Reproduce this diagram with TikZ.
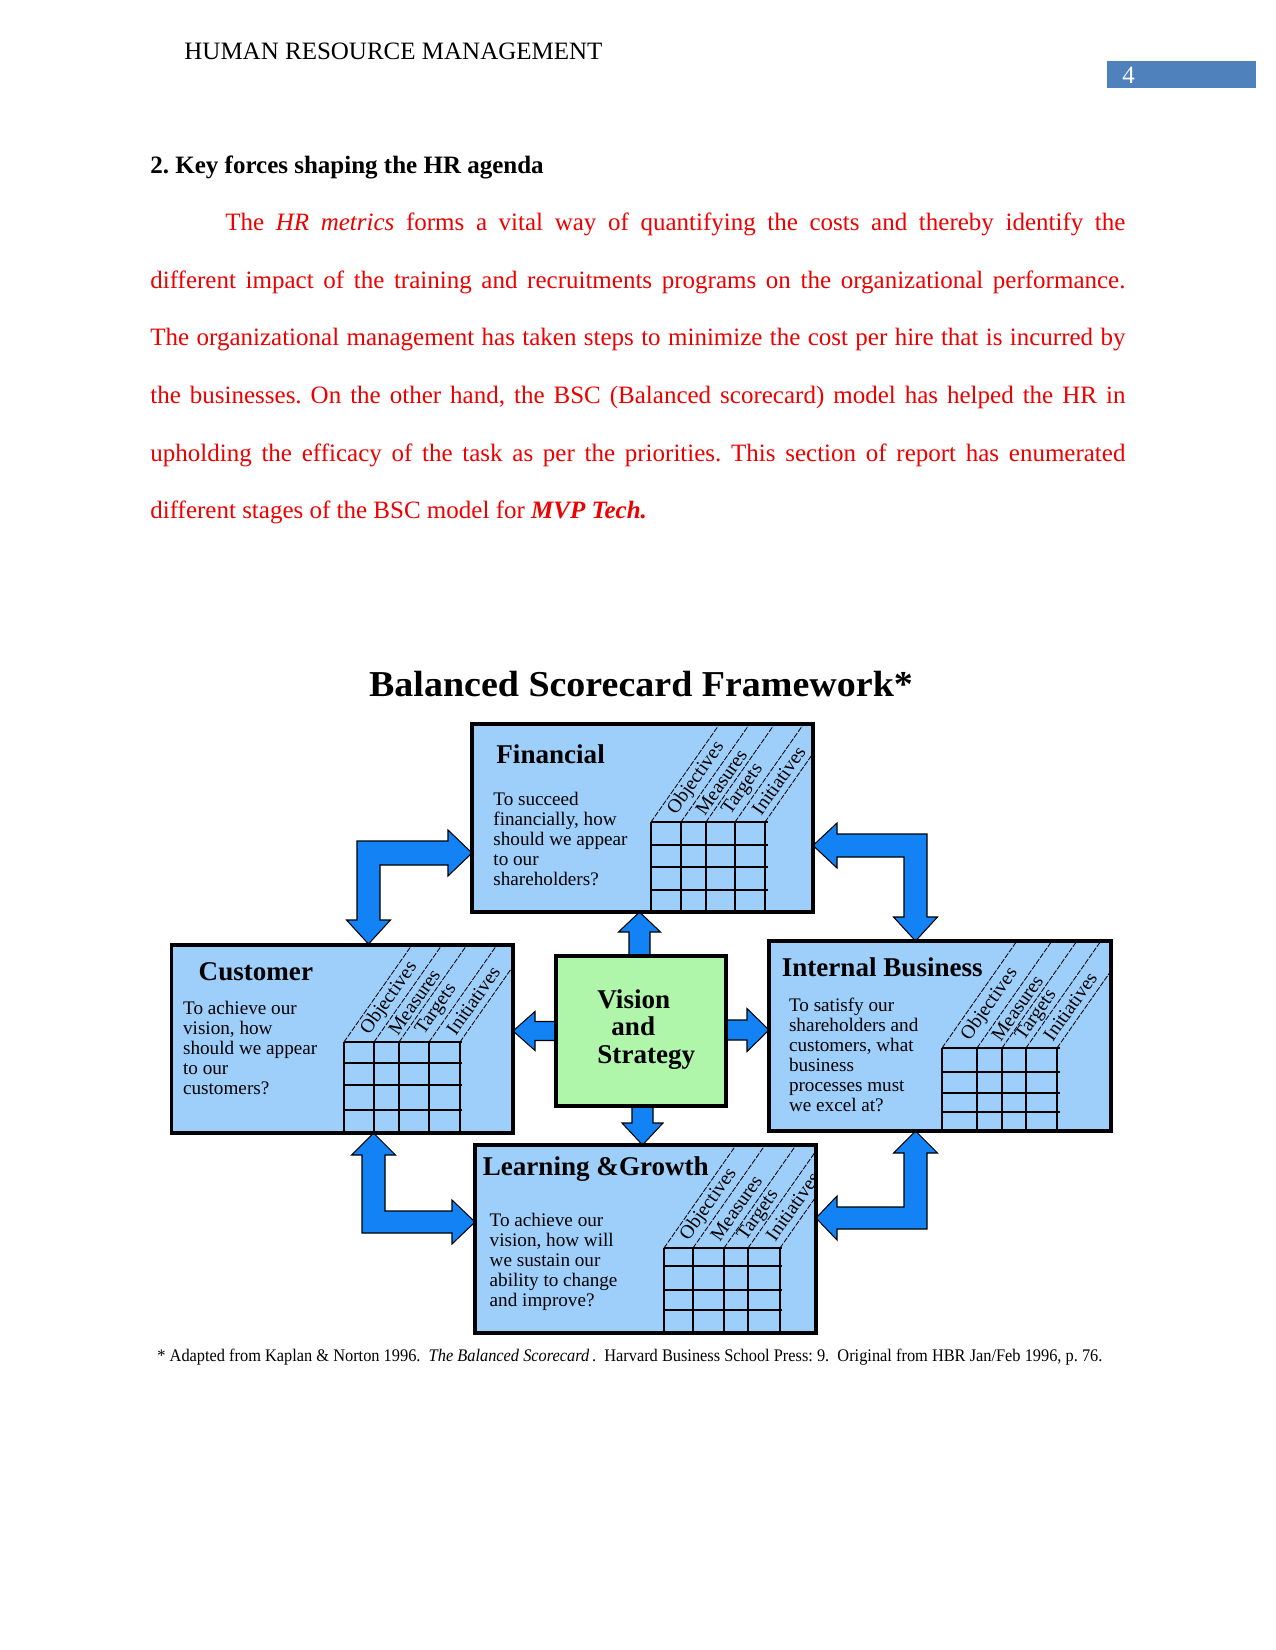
\documentclass[tikz,border=0pt]{standalone}
\usepackage{fontspec}
\setmainfont{Liberation Serif}
\usepackage{graphicx}
\frenchspacing
\definecolor{boxblue}{RGB}{158,206,250}
\definecolor{visgreen}{RGB}{176,246,170}
\definecolor{arrblue}{RGB}{18,130,245}
\definecolor{pagenum}{RGB}{79,129,189}
\definecolor{txtred}{RGB}{238,0,0}
\tikzset{
  boxborder/.style={draw=black, line width=1.8pt},
  boxfill/.style={fill=boxblue, draw=none, inner sep=0pt, outer sep=0pt},
  gridline/.style={draw=black, line width=0.9pt},
  slantline/.style={draw=black, line width=0.4pt, dash pattern=on 2.6pt off 0.7pt},
  blockarrow/.style={fill=arrblue, draw=black, line width=0.5pt, line join=miter},
  lbl/.style={anchor=west, rotate=55, inner sep=0pt, font=\fontsize{9.4}{10}\selectfont},
  boxtitle/.style={anchor=base west, inner sep=0pt, font=\fontsize{13}{14}\selectfont\bfseries},
  boxbody/.style={anchor=north west, inner sep=0pt, align=left, font=\fontsize{9.2}{9.6}\selectfont},
  plain12/.style={anchor=base west, inner sep=0pt, font=\fontsize{12}{14}\selectfont},
  paraline/.style={anchor=base west, inner sep=0pt, text=txtred, font=\fontsize{12}{14}\selectfont},
}
% #1 name, #2 x0, #3 y0, #4 x1, #5 y1, #6 grid top, #7 rows, #8 cols ; \gl \gr = horizontal extent
\newcommand{\scgrid}[8]{%
  \node[boxfill, minimum width={(#4-#2)*0.48pt}, minimum height={(#5-#3)*0.48pt}] (#1) at ({(#2+#4)/2},{(#3+#5)/2}) {};
  \foreach \c in {#8} \draw[gridline] (\c,#6) -- (\c,#5);
  \foreach \r in {#7} \draw[gridline] (\gl,\r) -- (\gr,\r);
  \begin{scope}
    \clip (#2,#3) rectangle (#4,#5);
    \foreach \c in {#8} \draw[slantline] (\c,#6) -- ++(140,-200);
  \end{scope}
  \draw[boxborder] (#1.north west) rectangle (#1.south east);
}
% column labels, clipped to the box: #1 name, #2 x0, #3 y0, #4 x1, #5 y1, #6 grid top, #7..#9 and \mdd strip mids
\newcommand{\sclabels}[9]{%
  \begin{scope}
    \clip (#2,#3) rectangle ({#4-2},#5);
    \node[lbl] (#1-obj) at ({#7+6},{#6-9}) {Objectives};
    \node[lbl] (#1-mea) at ({#8+6},{#6-9}) {Measures};
    \node[lbl] (#1-tar) at ({#9+6},{#6-9}) {Targets};
    \node[lbl] (#1-ini) at ({\mdd+6},{#6-9}) {Initiatives};
  \end{scope}
}
\begin{document}
\begin{tikzpicture}[x=0.48pt,y=-0.48pt]
\useasboundingbox (0,0) rectangle (1275,1650);
\fill[white] (0,0) rectangle (1275,1650);

% header
\node[plain12] (hdr) at (184,60) {HUMAN RESOURCE MANAGEMENT};
\fill[pagenum] (1107,61) rectangle (1256,88);
\node[plain12, text=white] (pg) at (1122,83.5) {4};

% section heading and paragraph
\node[plain12, font=\fontsize{12}{14}\selectfont\bfseries] (sec) at (150,174) {2. Key forces shaping the HR agenda};
\node[paraline] (p1) at (225,230.7) {\makebox[432pt][s]{The \textit{HR metrics} forms a vital way of quantifying the costs and thereby identify the}};
\node[paraline] (p2) at (150,288.5) {\makebox[468pt][s]{different impact of the training and recruitments programs on the organizational performance.}};
\node[paraline] (p3) at (150,345.3) {\makebox[468pt][s]{The organizational management has taken steps to minimize the cost per hire that is incurred by}};
\node[paraline] (p4) at (150,403.2) {\makebox[468pt][s]{the businesses. On the other hand, the BSC (Balanced scorecard) model has helped the HR in}};
\node[paraline] (p5) at (150,461.1) {\makebox[468pt][s]{upholding the efficacy of the task as per the priorities. This section of report has enumerated}};
\node[paraline] (p6) at (150,518.9) {different stages of the BSC model for \textbf{\textit{MVP Tech.}}};

% title
\node[anchor=base, inner sep=0pt] (ttl) at (641,696) {\resizebox{261pt}{\height}{\fontsize{17.5}{20}\selectfont\bfseries Balanced Scorecard Framework*}};

% ---- block arrows ----
% vision -> financial (up)
\draw[blockarrow] (629,956) -- (629,932) -- (618.5,932) -- (639.5,912) -- (660.5,932) -- (650,932) -- (650,956) -- cycle;
% vision -> learning (down)
\draw[blockarrow] (632,1106) -- (632,1123) -- (622,1123) -- (642.5,1145) -- (663,1123) -- (653,1123) -- (653,1106) -- cycle;
% vision -> customer (left)
\draw[blockarrow] (556,1021.5) -- (535,1021.5) -- (535,1011.5) -- (513,1031) -- (535,1050.5) -- (535,1040.5) -- (556,1040.5) -- cycle;
% vision -> internal (right)
\draw[blockarrow] (726,1020) -- (747,1020) -- (747,1008.5) -- (769,1030) -- (747,1051.5) -- (747,1040) -- (726,1040) -- cycle;
% customer <-> financial (top left)
\draw[blockarrow] (357,841) -- (448,841) -- (448,830) -- (472,853) -- (448,876) -- (448,865) -- (380,865) -- (380,920) -- (390.5,920) -- (368.5,944) -- (346.5,920) -- (357,920) -- cycle;
% financial <-> internal (top right)
\draw[blockarrow] (927,834) -- (837,834) -- (837,823) -- (813,845.5) -- (837,868) -- (837,857) -- (904,857) -- (904,917) -- (893.5,917) -- (915.5,941) -- (937.5,917) -- (927,917) -- cycle;
% customer <-> learning (bottom left)
\draw[blockarrow] (362,1233) -- (362,1155) -- (351.5,1155) -- (373.5,1133) -- (395.5,1155) -- (385,1155) -- (385,1211) -- (452,1211) -- (452,1200) -- (475,1222) -- (452,1244) -- (452,1233) -- cycle;
% internal <-> learning (bottom right)
\draw[blockarrow] (927,1229) -- (927,1153) -- (937.5,1153) -- (915.5,1131) -- (893.5,1153) -- (904,1153) -- (904,1207) -- (837,1207) -- (837,1196) -- (816,1218) -- (837,1240) -- (837,1229) -- cycle;

% ---- scorecard boxes ----
\def\gl{651}\def\gr{768}
\scgrid{fin}{472}{724}{813}{912}{822}{822,845,867,890}{651,681,706,735,765}
\def\gl{344}\def\gr{462}
\scgrid{cus}{171.5}{945}{513}{1133}{1042}{1042,1063,1085,1110}{344,374,399,429,460}
\def\gl{942}\def\gr{1060}
\scgrid{int}{769}{941}{1111}{1131}{1048}{1048,1072,1093,1112}{942,977,1002,1026,1057}
\def\gl{664}\def\gr{782}
\scgrid{lrn}{475}{1145}{816}{1333}{1248}{1248,1266,1290,1310}{664,693,724,748,780}

% column labels
\def\mdd{750}\sclabels{fin}{472}{724}{813}{912}{822}{666}{693.5}{720.5}
\def\mdd{444.5}\sclabels{cus}{171.5}{945}{513}{1133}{1042}{359}{386.5}{414}
\def\mdd{1041.5}\sclabels{int}{769}{941}{1111}{1131}{1048}{959.5}{989.5}{1014}
\def\mdd{764}\sclabels{lrn}{475}{1145}{816}{1333}{1248}{678.5}{708.5}{736}

% titles and questions
\node[boxtitle] (fin-t) at (496,763) {Financial};
\node[boxbody] (fin-q) at (493,791.8) {To succeed\\financially, how\\should we appear\\to our\\shareholders?};
\node[boxtitle] (cus-t) at (198.3,980) {Customer};
\node[boxbody] (cus-q) at (182.7,1000.8) {To achieve our\\vision, how\\should we appear\\to our\\customers?};
\node[boxtitle] (int-t) at (781.4,976.7) {Internal Business};
\node[boxbody] (int-q) at (788.6,997.8) {To satisfy our\\shareholders and\\customers, what\\business\\processes must\\we excel at?};
\node[boxtitle] (lrn-t) at (482.4,1175) {Learning \&Growth};
\node[boxbody] (lrn-q) at (489.3,1212.8) {To achieve our\\vision, how will\\we sustain our\\ability to change\\and improve?};

% vision box
\node[draw=black, line width=1.8pt, fill=visgreen, inner sep=0pt, minimum width={170*0.48pt}, minimum height={150*0.48pt}] (vis) at (641,1031) {};
\node[boxtitle] (vis-1) at (597,1008.3) {Vision};
\node[boxtitle] (vis-2) at (611,1035) {and};
\node[boxtitle] (vis-3) at (597,1063.3) {Strategy};

% footnote
\node[anchor=base west, inner sep=0pt] (fn) at (157,1361) {\resizebox{453.6pt}{\height}{\fontsize{8.5}{10}\selectfont * Adapted from Kaplan \& Norton 1996.\ \ \textit{The Balanced Scorecard}\,.\ \ Harvard Business School Press: 9.\ \ Original from HBR Jan/Feb 1996, p. 76.}};
\end{tikzpicture}
\end{document}
